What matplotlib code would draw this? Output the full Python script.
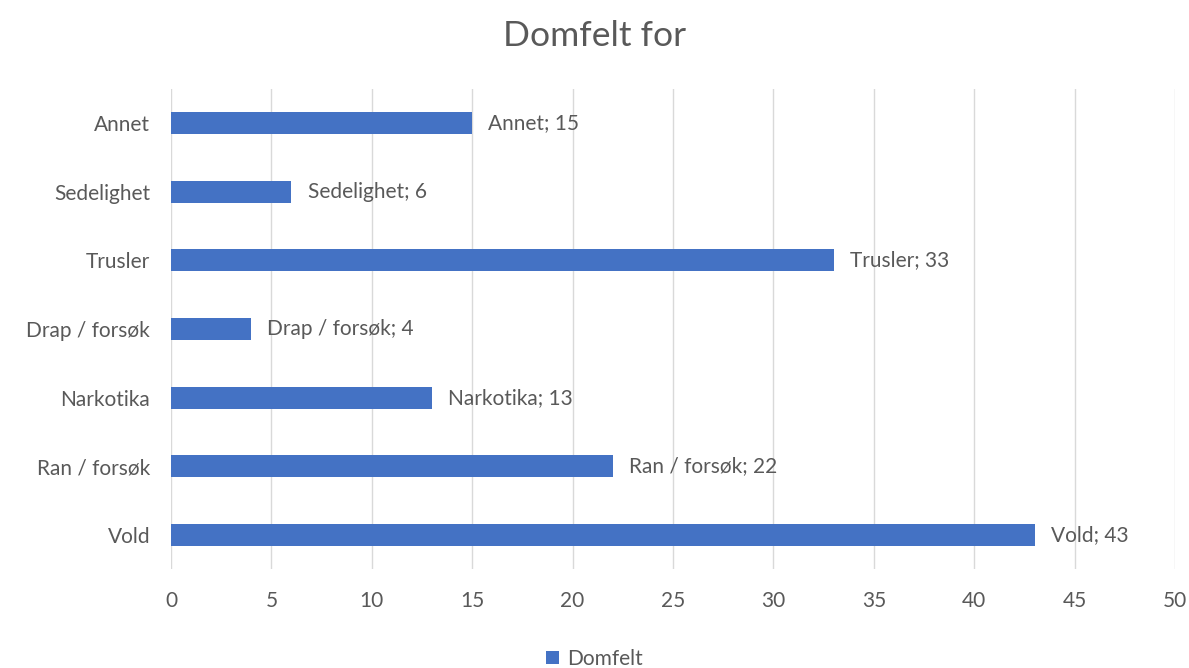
import matplotlib.pyplot as plt
from matplotlib.patches import Patch

categories = ['Vold', 'Ran / forsøk', 'Narkotika', 'Drap / forsøk', 'Trusler', 'Sedelighet', 'Annet']
values = [43, 22, 13, 4, 33, 6, 15]
series_name = 'Domfelt'

bar_color = '#4472C4'
text_color = '#595959'
plt.rcParams['font.family'] = ['Lato', 'DejaVu Sans']

fig = plt.figure(figsize=(11.89, 6.68), dpi=100)
ax = fig.add_axes([0.1438, 0.148, 0.8445, 0.719])

ypos = range(len(categories))
ax.barh(ypos, values, height=0.32, color=bar_color, zorder=3)

for y, cat, v in zip(ypos, categories, values):
    ax.text(v + 0.8, y, f'{cat}; {v}', va='center', ha='left',
            fontsize=15, color=text_color, zorder=4)

ax.set_xlim(0, 50)
ax.set_ylim(-0.5, len(categories) - 0.5)
ax.set_xticks(range(0, 51, 5))
ax.set_yticks(list(ypos))
ax.set_yticklabels(categories)
ax.tick_params(axis='both', length=0, labelsize=15, labelcolor=text_color)
ax.tick_params(axis='x', pad=16)
ax.tick_params(axis='y', pad=15)
ax.grid(axis='x', color='#D9D9D9', linewidth=1, zorder=0)
for s in ax.spines.values():
    s.set_visible(False)

fig.suptitle('Domfelt for', y=0.97, fontsize=25.5, color=text_color)

handles = [Patch(facecolor=bar_color, label=series_name)]
fig.legend(handles=handles, loc='center', bbox_to_anchor=(0.5, 0.014),
           frameon=False, fontsize=15, labelcolor=text_color,
           handlelength=0.6, handleheight=0.6, handletextpad=0.4)

fig.savefig('out.png', dpi=100)
